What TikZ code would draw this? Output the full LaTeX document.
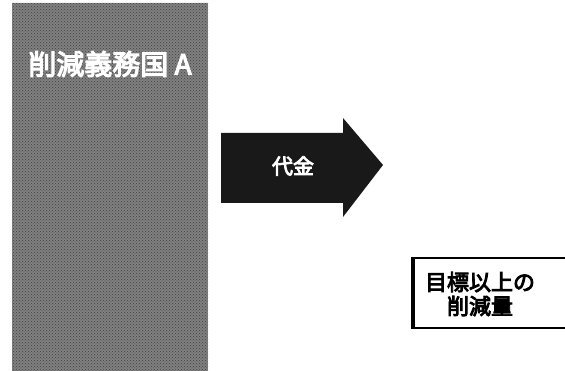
\documentclass[tikz,border=0pt]{standalone}
\usepackage{fontspec}
\newfontfamily\cjk[FakeBold=4]{Noto Sans CJK JP}
\usetikzlibrary{patterns}
\definecolor{panelgray}{gray}{0.5}
\definecolor{arrowdark}{gray}{0.1}
\begin{document}
\begin{tikzpicture}[x=1pt,y=1pt,
  paneltext/.style={text=white,font=\cjk\fontsize{28}{30}\selectfont,inner sep=0pt},
  paytext/.style={text=white,font=\cjk\fontsize{21}{24}\selectfont,inner sep=0pt},
  boxstyle/.style={draw=black,line width=2pt,fill=white,minimum width=180pt,minimum height=70pt,anchor=north west},
  boxtext/.style={text=black,font=\cjk\fontsize{22}{24}\selectfont,align=center,inner sep=0pt}]
\useasboundingbox (0,0) rectangle (565,371);
% left panel
\fill[panelgray] (12,0) rectangle (208,368);
\fill[pattern=crosshatch dots, pattern color=black!75] (12,0) rectangle (208,368);
\node[paneltext] (countryA) at (110,307) {削減義務国 A};
% arrow
\fill[arrowdark] (221,238) -- (343,238) -- (343,253) -- (383,206) -- (343,154) -- (343,168) -- (221,168) -- cycle;
\node[paytext] (pay) at (293,205) {代金};
% box
\node[boxstyle] (surplus) at (413,114) {};
\draw[black,line width=3.5pt] (surplus.north west) -- (surplus.south west);
\node[boxtext] (surplustext) at (480,77) {目標以上の\\削減量};
\end{tikzpicture}
\end{document}
